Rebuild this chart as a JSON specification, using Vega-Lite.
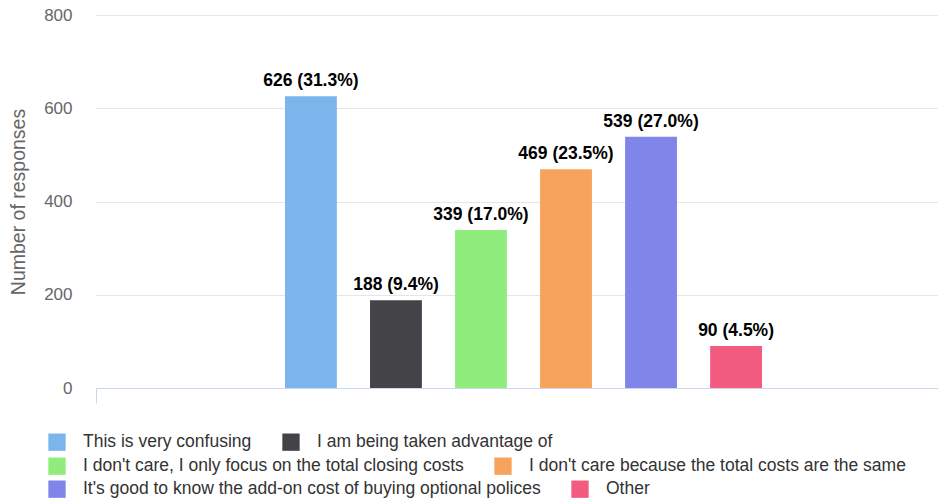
{
  "$schema": "https://vega.github.io/schema/vega-lite/v6.json",
  "width": 842,
  "height": 373,
  "autosize": {"type": "none"},
  "padding": {"left": 96, "top": 15, "right": 0, "bottom": 111},
  "config": {
    "view": {"stroke": null},
    "font": "Liberation Sans",
    "legend": {
      "title": null,
      "orient": "none",
      "direction": "horizontal",
      "symbolType": "square",
      "symbolSize": 300,
      "symbolStrokeWidth": 0,
      "symbolOpacity": 1,
      "labelFontSize": 17.5,
      "labelColor": "#333333",
      "labelLimit": 600,
      "labelOffset": 17,
      "columnPadding": 30
    }
  },
  "data": {
    "values": [
      {"answer": "This is very confusing", "count": 626, "label": "626 (31.3%)"},
      {"answer": "I am being taken advantage of", "count": 188, "label": "188 (9.4%)"},
      {"answer": "I don't care, I only focus on the total closing costs", "count": 339, "label": "339 (17.0%)"},
      {"answer": "I don't care because the total costs are the same", "count": 469, "label": "469 (23.5%)"},
      {"answer": "It's good to know the add-on cost of buying optional polices", "count": 539, "label": "539 (27.0%)"},
      {"answer": "Other", "count": 90, "label": "90 (4.5%)"}
    ]
  },
  "resolve": {"scale": {"color": "independent"}, "legend": {"color": "independent"}},
  "encoding": {
    "x": {
      "datum": "Responses",
      "type": "nominal",
      "scale": {"paddingInner": 0, "paddingOuter": 0},
      "axis": {
        "labels": false,
        "title": null,
        "domainColor": "#ccd6eb",
        "tickColor": "#ccd6eb",
        "tickSize": 15,
        "tickBand": "extent",
        "zindex": 1
      }
    },
    "xOffset": {
      "field": "answer",
      "type": "nominal",
      "scale": {
        "domain": ["This is very confusing", "I am being taken advantage of", "I don't care, I only focus on the total closing costs", "I don't care because the total costs are the same", "It's good to know the add-on cost of buying optional polices", "Other"],
        "range": [189, 666],
        "paddingInner": 0.39,
        "paddingOuter": 0
      }
    },
    "y": {
      "field": "count",
      "type": "quantitative",
      "scale": {"domain": [0, 800]},
      "axis": {
        "values": [0, 200, 400, 600, 800],
        "title": "Number of responses",
        "titleFontSize": 19.5,
        "titleFontWeight": "normal",
        "titleColor": "#666666",
        "titlePadding": 15,
        "labelFontSize": 17,
        "labelColor": "#666666",
        "labelPadding": 24,
        "ticks": false,
        "domain": false,
        "gridColor": "#e6e6e6",
        "gridWidth": 1
      }
    }
  },
  "layer": [
    {
      "transform": [{"filter": {"field": "answer", "oneOf": ["This is very confusing", "I am being taken advantage of"]}}],
      "mark": {"type": "bar"},
      "encoding": {
        "color": {
          "field": "answer",
          "type": "nominal",
          "sort": null,
          "scale": {"domain": ["This is very confusing", "I am being taken advantage of"], "range": ["#7cb5ec", "#434348"]},
          "legend": {"legendX": -48, "legendY": 418}
        }
      }
    },
    {
      "transform": [{"filter": {"field": "answer", "oneOf": ["I don't care, I only focus on the total closing costs", "I don't care because the total costs are the same"]}}],
      "mark": {"type": "bar"},
      "encoding": {
        "color": {
          "field": "answer",
          "type": "nominal",
          "sort": null,
          "scale": {"domain": ["I don't care, I only focus on the total closing costs", "I don't care because the total costs are the same"], "range": ["#90ed7d", "#f7a35c"]},
          "legend": {"legendX": -48, "legendY": 442}
        }
      }
    },
    {
      "transform": [{"filter": {"field": "answer", "oneOf": ["It's good to know the add-on cost of buying optional polices", "Other"]}}],
      "mark": {"type": "bar"},
      "encoding": {
        "color": {
          "field": "answer",
          "type": "nominal",
          "sort": null,
          "scale": {"domain": ["It's good to know the add-on cost of buying optional polices", "Other"], "range": ["#8085e9", "#f15c80"]},
          "legend": {"legendX": -48, "legendY": 465}
        }
      }
    },
    {
      "mark": {"type": "text", "baseline": "alphabetic", "dy": -10, "fontWeight": "bold", "fontSize": 17.5, "color": "#000000"},
      "encoding": {"text": {"field": "label"}}
    }
  ]
}
